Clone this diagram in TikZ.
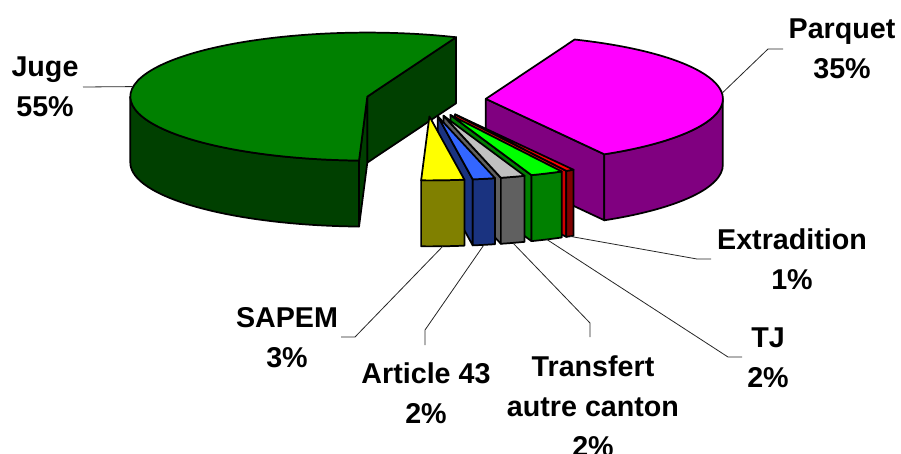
\documentclass[tikz,border=0pt]{standalone}
\usepackage{fontspec}
\setmainfont{Liberation Sans}
\usetikzlibrary{calc}
\definecolor{jugetop}{HTML}{008000}
\definecolor{jugeside}{HTML}{004000}
\definecolor{parquettop}{HTML}{FF00FF}
\definecolor{parquetside}{HTML}{800080}
\definecolor{sapemtop}{HTML}{FFFF00}
\definecolor{sapemside}{HTML}{808000}
\definecolor{articletop}{HTML}{3366FF}
\definecolor{articleside}{HTML}{1A3380}
\definecolor{transferttop}{HTML}{C0C0C0}
\definecolor{transfertside}{HTML}{606060}
\definecolor{tjtop}{HTML}{00FF00}
\definecolor{tjside}{HTML}{008000}
\definecolor{extratop}{HTML}{FF0000}
\definecolor{extraside}{HTML}{800000}
\definecolor{extrawall}{HTML}{D00000}

\begin{document}
\begin{tikzpicture}[x=0.75pt,y=0.75pt,yscale=-1,xscale=1,
	slice/.style={draw=black, line width=1.3pt, line join=round},
	pierim/.style={x radius=237, y radius=64},
	leader/.style={draw=black!85, line width=0.6pt},
	lbl/.style={font=\fontsize{21.5}{30}\selectfont\bfseries, align=center, inner sep=0pt}]
	\useasboundingbox (0,0) rectangle (901,454);
	% pie centre and exploded slice centres
	\coordinate (ctr) at (426,100);
	\coordinate (juge) at ($(ctr)+(192:60 and 16.4)$);
	\coordinate (parquet) at ($(ctr)+(-4:60 and 16.4)$);
	\coordinate (sapem) at ($(ctr)+(86.75:60 and 16.4)$);
	\coordinate (article) at ($(ctr)+(78.75:60 and 16.4)$);
	\coordinate (transfert) at ($(ctr)+(73:60 and 16.4)$);
	\coordinate (tj) at ($(ctr)+(66:60 and 16.4)$);
	\coordinate (extra) at ($(ctr)+(61:60 and 16.4)$);
	% Juge
	\draw[slice, fill=jugeside] (juge) -- ++(292:237 and 64) -- ++(0,66) -- ($(juge)+(0,66)$) -- cycle;
	\draw[slice, fill=jugeside] (juge) -- ++(92:237 and 64) -- ++(0,66) -- ($(juge)+(0,66)$) -- cycle;
	\draw[slice, fill=jugeside] ($(juge)+(92:237 and 64)$) arc[start angle=92, end angle=180, pierim] -- ++(0,66) arc[start angle=180, end angle=92, pierim] -- cycle;
	\draw[slice, fill=jugetop] (juge) -- ++(292:237 and 64) arc[start angle=292, end angle=92, pierim] -- cycle;
	% Parquet
	\draw[slice, fill=parquetside] (parquet) -- ++(60:237 and 64) -- ++(0,66) -- ($(parquet)+(0,66)$) -- cycle;
	\draw[slice, fill=parquetside] ($(parquet)+(0:237 and 64)$) arc[start angle=0, end angle=60, pierim] -- ++(0,66) arc[start angle=60, end angle=0, pierim] -- cycle;
	\draw[slice, fill=parquettop] (parquet) -- ++(-68:237 and 64) arc[start angle=-68, end angle=60, pierim] -- cycle;
	% Extradition
	\draw[slice, fill=extrawall] (extra) -- ++(62:237 and 64) -- ++(0,66) -- ($(extra)+(0,66)$) -- cycle;
	\draw[slice, fill=extraside] ($(extra)+(60:237 and 64)$) arc[start angle=60, end angle=62, pierim] -- ++(0,66) arc[start angle=62, end angle=60, pierim] -- cycle;
	\draw[slice, fill=extratop] (extra) -- ++(60:237 and 64) arc[start angle=60, end angle=62, pierim] -- cycle;
	% TJ
	\draw[slice, fill=tjside] (tj) -- ++(70:237 and 64) -- ++(0,66) -- ($(tj)+(0,66)$) -- cycle;
	\draw[slice, fill=tjside] ($(tj)+(62:237 and 64)$) arc[start angle=62, end angle=70, pierim] -- ++(0,66) arc[start angle=70, end angle=62, pierim] -- cycle;
	\draw[slice, fill=tjtop] (tj) -- ++(62:237 and 64) arc[start angle=62, end angle=70, pierim] -- cycle;
	% Transfert autre canton
	\draw[slice, fill=transfertside] (transfert) -- ++(76:237 and 64) -- ++(0,66) -- ($(transfert)+(0,66)$) -- cycle;
	\draw[slice, fill=transfertside] ($(transfert)+(70:237 and 64)$) arc[start angle=70, end angle=76, pierim] -- ++(0,66) arc[start angle=76, end angle=70, pierim] -- cycle;
	\draw[slice, fill=transferttop] (transfert) -- ++(70:237 and 64) arc[start angle=70, end angle=76, pierim] -- cycle;
	% Article 43
	\draw[slice, fill=articleside] (article) -- ++(81.5:237 and 64) -- ++(0,66) -- ($(article)+(0,66)$) -- cycle;
	\draw[slice, fill=articleside] ($(article)+(76:237 and 64)$) arc[start angle=76, end angle=81.5, pierim] -- ++(0,66) arc[start angle=81.5, end angle=76, pierim] -- cycle;
	\draw[slice, fill=articletop] (article) -- ++(76:237 and 64) arc[start angle=76, end angle=81.5, pierim] -- cycle;
	% SAPEM
	\draw[slice, fill=sapemside] ($(sapem)+(81.5:237 and 64)$) arc[start angle=81.5, end angle=92, pierim] -- ++(0,66) arc[start angle=92, end angle=81.5, pierim] -- cycle;
	\draw[slice, fill=sapemtop] (sapem) -- ++(81.5:237 and 64) arc[start angle=81.5, end angle=92, pierim] -- cycle;
	% labels
	\node[lbl] (juge label) at (45,86.5) {Juge\\55\%};
	\node[lbl] (parquet label) at (842,49) {Parquet\\35\%};
	\node[lbl] (extra label) at (792,259.5) {Extradition\\1\%};
	\node[lbl] (tj label) at (768,357.5) {TJ\\2\%};
	\node[lbl] (sapem label) at (287,337.5) {SAPEM\\3\%};
	\node[lbl] (article label) at (426,393.5) {Article 43\\2\%};
	\node[lbl] (transfert label) at (593,406) {Transfert\\autre canton\\2\%};
	% leader lines
	\coordinate (juge tip) at ($(juge)+(189:237 and 64)$);
	\coordinate (parquet tip) at ($(parquet)+(-5:237 and 64)$);
	\coordinate (extra tip) at ($(extra)+(61:237 and 64)+(0,66)$);
	\coordinate (tj tip) at ($(tj)+(66:237 and 64)+(0,66)$);
	\coordinate (transfert tip) at ($(transfert)+(73:237 and 64)+(0,66)$);
	\coordinate (article tip) at ($(article)+(78.75:237 and 64)+(0,66)$);
	\coordinate (sapem tip) at ($(sapem)+(86.75:237 and 64)+(0,66)$);
	\coordinate (juge end) at (83,87);
	\coordinate (parquet bend) at (768,49);
	\coordinate (parquet end) at (783,49);
	\coordinate (extra bend) at (697,259);
	\coordinate (extra end) at (711,259);
	\coordinate (tj bend) at (728,357);
	\coordinate (tj end) at (742,357);
	\coordinate (transfert bend) at (590,323);
	\coordinate (transfert end) at (590,337);
	\coordinate (article bend) at (425,330);
	\coordinate (article end) at (425,345);
	\coordinate (sapem bend) at (355,337);
	\coordinate (sapem end) at (341,337);
	\draw[leader] (juge tip) -- (juge end);
	\draw[leader] (parquet tip) -- (parquet bend) -- (parquet end);
	\draw[leader] (extra tip) -- (extra bend) -- (extra end);
	\draw[leader] (tj tip) -- (tj bend) -- (tj end);
	\draw[leader] (transfert tip) -- (transfert bend) -- (transfert end);
	\draw[leader] (article tip) -- (article bend) -- (article end);
	\draw[leader] (sapem tip) -- (sapem bend) -- (sapem end);
\end{tikzpicture}
\end{document}
